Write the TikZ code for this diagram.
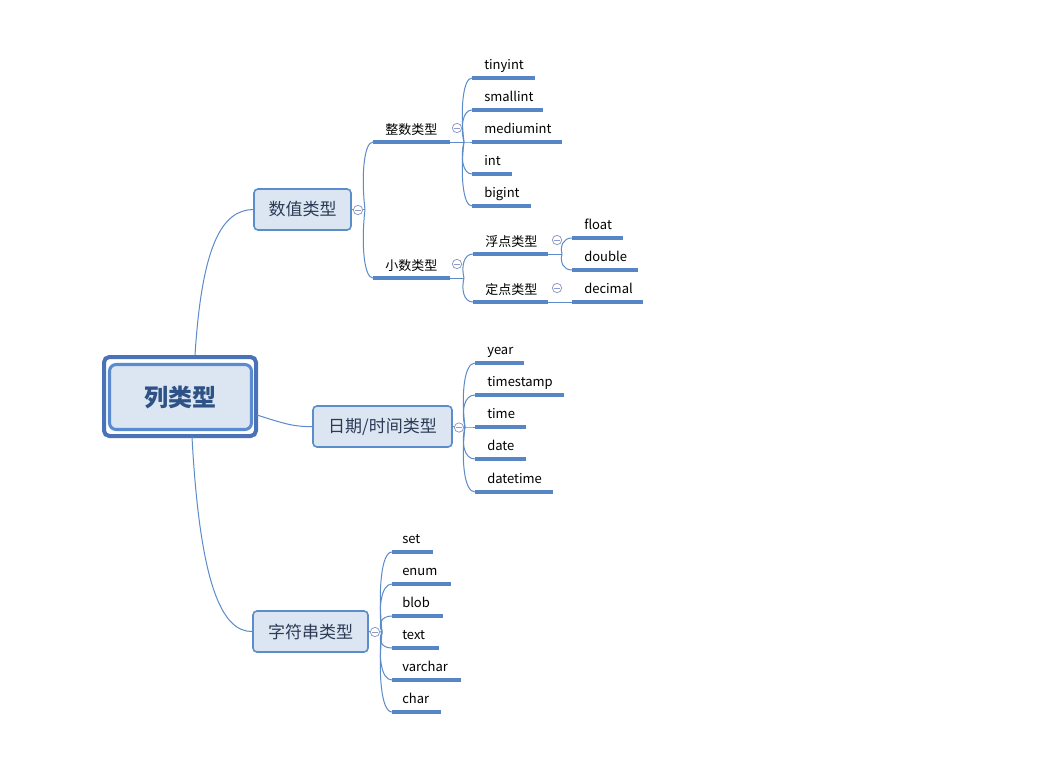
\documentclass[tikz,border=0pt]{standalone}
\usepackage{fontspec}
\setmainfont{Noto Sans CJK SC}
\definecolor{lineblue}{HTML}{5B8BC9}
\definecolor{ulblue}{HTML}{5686C6}
\definecolor{rootborder}{HTML}{4A72B8}
\definecolor{rootinner}{HTML}{5B8BCF}
\definecolor{boxfill}{HTML}{DCE6F2}
\definecolor{brborder}{HTML}{5B8CCB}
\definecolor{roottext}{HTML}{2E5286}
\definecolor{brtext}{HTML}{2B3A55}
\definecolor{togcol}{HTML}{8E9CC6}
\tikzset{
  conn/.style={draw=lineblue, line width=0.75pt},
  ul/.style={draw=ulblue, line width=2.4pt},
  lbl/.style={font=\fontsize{9.75}{11}\selectfont, anchor=base west, inner sep=0pt, text=black},
  branch/.style={draw=brborder, fill=boxfill, rounded corners=3pt, line width=1.2pt,
    font=\fontsize{12.75}{14}\selectfont, text=brtext, inner sep=0pt},
  tog/.style={circle, draw=togcol, fill=white, inner sep=0pt, minimum size=7pt, line width=0.6pt,
    path picture={\draw[togcol, line width=0.6pt] ([xshift=-2pt]path picture bounding box.center) -- ([xshift=2pt]path picture bounding box.center);}}
}
\begin{document}
\begin{tikzpicture}[x=0.75pt,y=-0.75pt]
\useasboundingbox (0,0) rectangle (1039,757);
\fill[white] (0,0) rectangle (1039,757);

% root
\node[draw=rootborder, line width=3pt, rounded corners=4pt, minimum width=114pt, minimum height=59.25pt, inner sep=0pt] (rootout) at (180,396.5) {};
\node[draw=rootinner, fill=boxfill, line width=2.3pt, rounded corners=5pt, minimum width=106.5pt, minimum height=48.75pt, inner sep=0pt,
  font=\fontsize{18}{20}\selectfont\bfseries, text=roottext] (root) at (180.5,397) {列类型};
\coordinate (rtop) at (195,355);
\coordinate (rright) at (257,415);
\coordinate (rbot) at (192,437);

% branches
\node[branch, minimum width=72.75pt, minimum height=30.75pt] (num) at (302.5,209.5) {数值类型};
\node[branch, minimum width=104.25pt, minimum height=30.75pt] (dt) at (382.5,426.5) {日期/时间类型};
\node[branch, minimum width=86.25pt, minimum height=30.75pt] (str) at (310.5,631.5) {字符串类型};

\draw[conn] (rtop) .. controls (202,245) and (222,210) .. (num.west);
\draw[conn] (rright) .. controls (285,424) and (295,427) .. (dt.west);
\draw[conn] (rbot) .. controls (200,585) and (222,632) .. (str.west);

% level 2 under 数值类型
\coordinate (z-s) at (373,142); \coordinate (z-e) at (450,142);
\coordinate (x-s) at (373,278); \coordinate (x-e) at (450,278);
\draw[conn] (num.east) -- (365,209.5);
\draw[conn] (365,209.5) .. controls (361,176) and (364,142) .. (z-s);
\draw[conn] (365,209.5) .. controls (361,244) and (364,278) .. (x-s);
\draw[ul] (z-s) -- (z-e);
\draw[ul] (x-s) -- (x-e);
\node[lbl] (zheng) at (385,134) {整数类型};
\node[lbl] (xiao) at (385,270) {小数类型};
\node[tog] (tnum) at (358,210) {};

% integer leaves
\draw[conn] (z-e) -- (464,142);
\foreach \n/\t/\xe/\y in {ti/tinyint/535/78, si/smallint/543/110, mi/mediumint/562/142, in/int/512/174, bi/bigint/531/206}{
  \coordinate (\n-s) at (472,\y);
  \coordinate (\n-e) at (\xe,\y);
  \draw[conn] (464,142) .. controls (460,{(142+\y)/2}) and (463,\y) .. (\n-s);
  \draw[ul] (\n-s) -- (\n-e);
  \node[lbl] (\n) at (484,\y-9) {\t};
}
\node[tog] (tz) at (457,128) {};

% decimal sub-branches
\coordinate (f-s) at (473,254); \coordinate (f-e) at (548,254);
\coordinate (d-s) at (473,302); \coordinate (d-e) at (548,302);
\draw[conn] (x-e) -- (464,278);
\draw[conn] (464,278) .. controls (461,266) and (464,254) .. (f-s);
\draw[conn] (464,278) .. controls (461,290) and (464,302) .. (d-s);
\draw[ul] (f-s) -- (f-e);
\draw[ul] (d-s) -- (d-e);
\node[lbl] (fu) at (485,246) {浮点类型};
\node[lbl] (ding) at (485,294) {定点类型};
\node[tog] (tx) at (457,264) {};

% float leaves
\draw[conn] (f-e) -- (562,254);
\foreach \n/\t/\xe/\y in {fl/float/623/238, db/double/638/270}{
  \coordinate (\n-s) at (572,\y);
  \coordinate (\n-e) at (\xe,\y);
  \draw[conn] (562,254) .. controls (560,{(254+\y)/2}) and (563,\y) .. (\n-s);
  \draw[ul] (\n-s) -- (\n-e);
  \node[lbl] (\n) at (584,\y-9) {\t};
}
\node[tog] (tf) at (557,240) {};
% fixed leaf
\coordinate (dc-s) at (572,302); \coordinate (dc-e) at (643,302);
\draw[conn] (d-e) -- (dc-s);
\draw[ul] (dc-s) -- (dc-e);
\node[lbl] (dc) at (584,293) {decimal};
\node[tog] (td) at (557,288) {};

% date/time leaves
\draw[conn] (dt.east) -- (465,427);
\foreach \n/\t/\xe/\y in {yr/year/524/363, ts/timestamp/564/395, tm/time/526/427, da/date/526/459, dtm/datetime/553/492}{
  \coordinate (\n-s) at (475,\y);
  \coordinate (\n-e) at (\xe,\y);
  \draw[conn] (465,427) .. controls (461,{(427+\y)/2}) and (464,\y) .. (\n-s);
  \draw[ul] (\n-s) -- (\n-e);
  \node[lbl] (\n) at (487,\y-9) {\t};
}
\node[tog] (tdt) at (459,427.5) {};

% string leaves
\draw[conn] (str.east) -- (382,632);
\foreach \n/\t/\xe/\y in {se/set/433/552, en/enum/451/584, bl/blob/443/616, tx/text/439/648, vc/varchar/461/680, ch/char/441/712}{
  \coordinate (\n-s) at (392,\y);
  \coordinate (\n-e) at (\xe,\y);
  \draw[conn] (382,632) .. controls (378,{(632+\y)/2}) and (381,\y) .. (\n-s);
  \draw[ul] (\n-s) -- (\n-e);
  \node[lbl] (\n) at (402,\y-9) {\t};
}
\node[tog] (tstr) at (375,632) {};
\end{tikzpicture}
\end{document}
